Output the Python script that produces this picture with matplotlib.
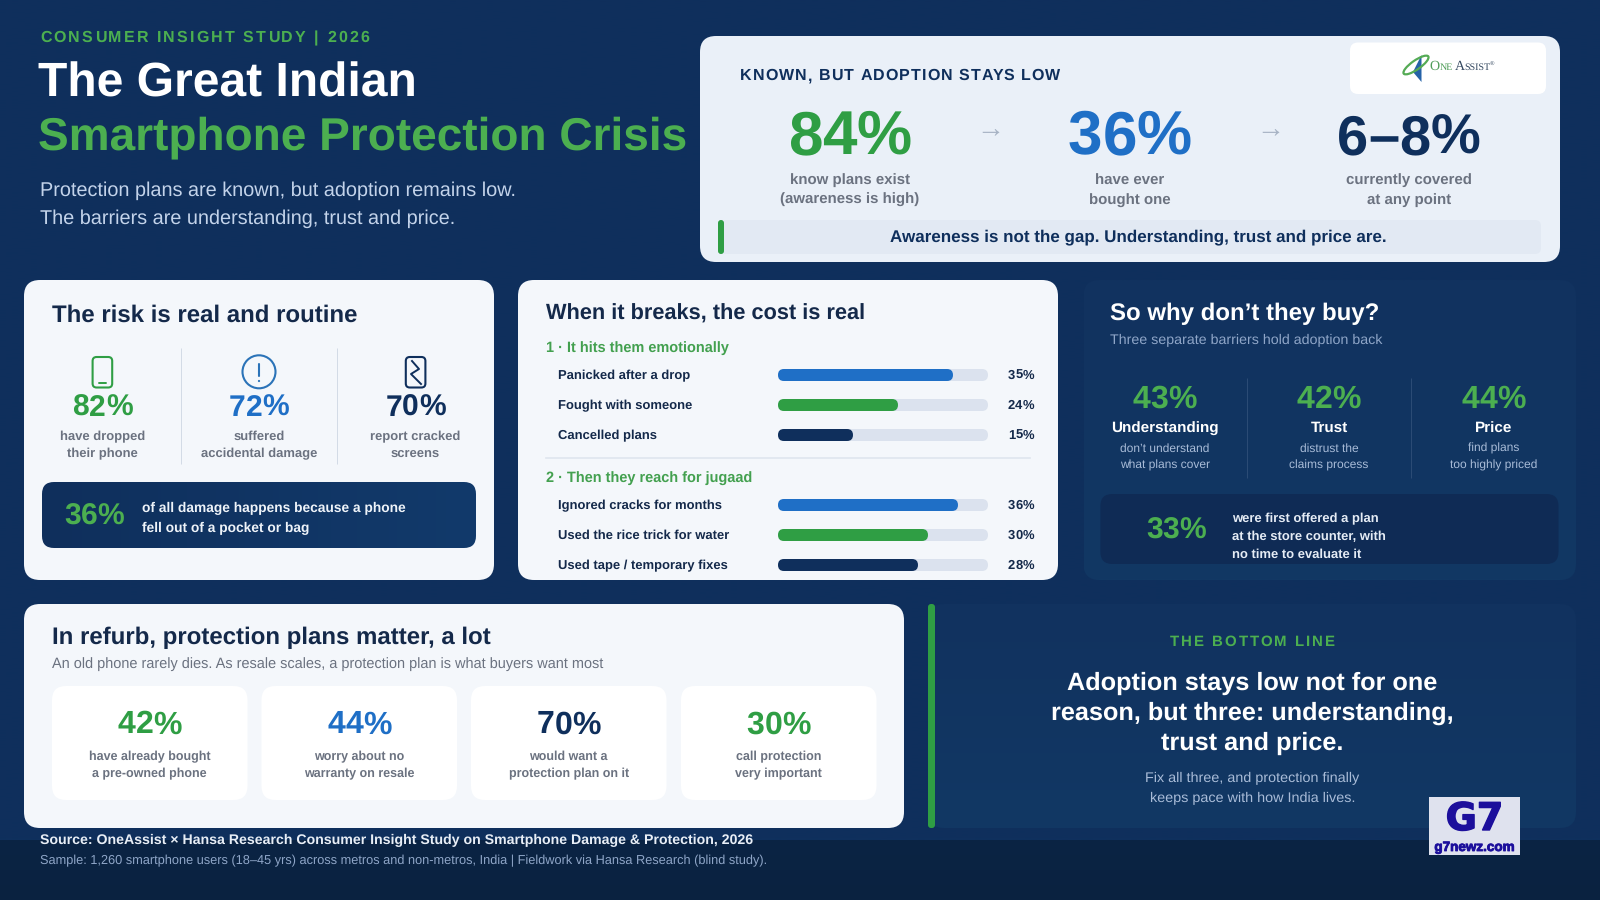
import numpy as np
import matplotlib
matplotlib.use("Agg")
import matplotlib.pyplot as plt
import matplotlib.patheffects as pe
from matplotlib.patches import Circle, Ellipse, FancyBboxPatch, Polygon
from matplotlib.text import Text
from matplotlib.transforms import IdentityTransform

plt.rcParams["font.family"] = ["Liberation Sans", "DejaVu Sans"]
plt.rcParams["text.hinting"] = "no_hinting"

# Colours
NAVY = "#0f2f5c"
INK = "#14294a"
GREEN = "#2f9e44"
LIME = "#4caf50"
BLUE = "#1f6fc6"
GREY = "#6b7280"
CARD = "#f4f7fb"

# Funnel at the top
funnel_values = ["84%", "36%", "6–8%"]
funnel_labels = [("know plans exist", "(awareness is high)"), ("have ever", "bought one"),
                 ("currently covered", "at any point")]

# The risk card
risk_values = [82, 72, 70]
risk_labels = [("have dropped", "their phone"), ("suffered", "accidental damage"),
               ("report cracked", "screens")]

# The cost card
emotion_labels = ["Panicked after a drop", "Fought with someone", "Cancelled plans"]
emotion_values = [35, 24, 15]
jugaad_labels = ["Ignored cracks for months", "Used the rice trick for water", "Used tape / temporary fixes"]
jugaad_values = [36, 30, 28]
BAR_MAX = 42

# The barriers card
barrier_values = [43, 42, 44]
barrier_names = ["Understanding", "Trust", "Price"]
barrier_notes = [("don’t understand", "what plans cover"), ("distrust the", "claims process"),
                 ("find plans", "too highly priced")]

# The refurb card
refurb_values = [42, 44, 70, 30]
refurb_labels = [("have already bought", "a pre-owned phone"), ("worry about no", "warranty on resale"),
                 ("would want a", "protection plan on it"), ("call protection", "very important")]


class SpacedText(Text):
    # matplotlib has no letter spacing, so draw the glyphs one by one
    def __init__(self, x, y, text, spacing, **kwargs):
        super().__init__(x, y, text, **kwargs)
        self.spacing = spacing

    def draw(self, renderer):
        s = self.get_text()
        fp = self.get_fontproperties()
        x0, y0 = self.get_transform().transform(self.get_position())

        def width(part):
            return renderer.get_text_width_height_descent(part, fp, False)[0] if part else 0

        offsets = [width(s[:i]) + i * self.spacing for i in range(len(s))]
        total = offsets[-1] + width(s[-1])
        if self.get_ha() == "center":
            x0 -= total / 2
        elif self.get_ha() == "right":
            x0 -= total
        for off, c in zip(offsets, s):
            g = Text(x0 + off, y0, c, color=self.get_color(), fontproperties=fp,
                     va="baseline", ha="left", transform=IdentityTransform())
            g.set_figure(self.figure)
            g.draw(renderer)


fig = plt.figure(figsize=(16, 9), dpi=100)
ax = fig.add_axes([0, 0, 1, 1])


def txt(x, y, s, px, color, weight="normal", ha="left", family=None, **kwargs):
    fam = family if family else ["Liberation Sans", "DejaVu Sans"]
    return ax.text(x, y, s, fontsize=px * 0.72, color=color, weight=weight, ha=ha, va="baseline",
                   family=fam, zorder=5, **kwargs)


def spaced(x, y, s, px, color, spacing=0, ha="left"):
    a = SpacedText(x, y, s, spacing, fontsize=px * 0.72, color=color, weight="bold", ha=ha, va="baseline",
                   family=["Liberation Sans", "DejaVu Sans"], zorder=5)
    ax.add_artist(a)


def box(x0, y0, x1, y1, r, color, z=2, a=None):
    p = FancyBboxPatch((x0, y0), x1 - x0, y1 - y0, boxstyle=f"round,pad=0,rounding_size={r}",
                       fc=color, ec="none", lw=0, zorder=z, alpha=a)
    ax.add_patch(p)
    return p


def gradient(x0, y0, x1, y1, r, c0, c1, horizontal=False, z=2):
    # rounded panel filled with a two stop gradient
    c0 = np.array(matplotlib.colors.to_rgb(c0))
    c1 = np.array(matplotlib.colors.to_rgb(c1))
    t = np.linspace(0, 1, 256)[:, None]
    img = c0 + (c1 - c0) * t
    img = img[None, :, :] if horizontal else img[:, None, :]
    im = ax.imshow(img, extent=(x0, x1, y1, y0), aspect="auto", zorder=z, interpolation="bilinear")
    if r:
        p = box(x0, y0, x1, y1, r, "none", z=z)
        im.set_clip_path(p)


def vline(x, y0, y1, color, lw=1.0, z=3):
    ax.plot([x, x], [y0, y1], color=color, lw=lw * 0.72, zorder=z, solid_capstyle="butt")


# Background
gradient(0, 0, 1600, 840, 0, "#0f2f5c", "#0f305d", z=0)
gradient(0, 840, 1600, 900, 0, "#0b2444", "#0a2240", z=0)

# Header
spaced(40, 42.3, "CONSUMER INSIGHT STUDY | 2026", 16, LIME, 2.1)
txt(38, 96.4, "The Great Indian", 48, "white", "bold")
txt(38, 149.5, "Smartphone Protection Crisis", 46, LIME, "bold")
txt(40, 195.8, "Protection plans are known, but adoption remains low.", 19.9, "#c3d3ea")
txt(40, 223.6, "The barriers are understanding, trust and price.", 19.9, "#c3d3ea")

# Top card
box(700, 36, 1560, 262, 16, "#eaf0f8")
box(1350, 42.5, 1546, 94, 8, "white", z=3)
spaced(740, 80.3, "KNOWN, BUT ADOPTION STAYS LOW", 16, NAVY, 1.1)

# Logo
ax.add_patch(Polygon([(1421.5, 55), (1421.5, 82), (1413, 72)], fc="#2562a8", ec="none", zorder=4))
ax.add_patch(Ellipse((1416, 65), 30, 9, angle=-35, fc="none", ec="#55ab55", lw=1.6, zorder=4))
txt(1429, 70, "O", 14, "#4f9d59", family="Liberation Serif")
txt(1440, 70, "NE", 10, "#4f9d59", family="Liberation Serif")
txt(1454.5, 70, "A", 14, "#33475f", family="Liberation Serif")
txt(1464.5, 70, "SSIST", 10, "#33475f", family="Liberation Serif")
txt(1490, 66, "®", 6, "#33475f", family="Liberation Serif")

funnel_x = [850, 1130, 1409]
funnel_px = [62, 62, 56]
funnel_col = [GREEN, BLUE, NAVY]
funnel_dy = [0, 0.7, 0]
for x, v, px, c, lab, dy in zip(funnel_x, funnel_values, funnel_px, funnel_col, funnel_labels, funnel_dy):
    spaced(x, 154, v, px, c, ha="center")
    txt(x, 184.3 + dy, lab[0], 15, GREY, "bold", ha="center")
    txt(x, 204.3 + dy, lab[1], 15, GREY, "bold", ha="center")
for x in (990, 1270):
    txt(x, 137.5, "→", 28, "#a7b3c4", ha="center")

box(718, 220, 1541, 254, 6, "#e2e9f3", z=3)
box(718, 220, 724, 254, 3, GREEN, z=4)
txt(1138, 241.2, "Awareness is not the gap. Understanding, trust and price are.", 17, NAVY, "bold", ha="center")

# Risk card
box(24, 280, 494, 580, 16, CARD)
txt(52, 321.7, "The risk is real and routine", 24, INK, "bold")
risk_x = [102.4, 259, 415.5]
risk_col = [GREEN, BLUE, NAVY]
for x, v, c, lab in zip(risk_x, risk_values, risk_col, risk_labels):
    spaced(x, 416.2, f"{v}%", 30, c, ha="center")
    txt(x, 440, lab[0], 13, GREY, "bold", ha="center")
    txt(x, 457, lab[1], 13, GREY, "bold", ha="center")
vline(180.5, 348, 464, "#d3dbe6")
vline(337.4, 348, 464, "#d3dbe6")

# Risk icons
p = FancyBboxPatch((92.6, 357), 19.6, 30.5, boxstyle="round,pad=0,rounding_size=4", fc="none", ec=GREEN,
                   lw=1.5, zorder=4)
ax.add_patch(p)
ax.plot([99, 106], [383, 383], color=GREEN, lw=1.4, zorder=4, solid_capstyle="round")
ax.add_patch(Circle((259, 371.8), 16.5, fc="none", ec="#2b73b8", lw=1.5, zorder=4))
ax.plot([259, 259], [364, 376], color="#2b73b8", lw=1.5, zorder=4, solid_capstyle="round")
ax.add_patch(Circle((259, 381), 1.1, fc="#2b73b8", ec="none", zorder=4))
p = FancyBboxPatch((405.8, 357), 19.6, 30.5, boxstyle="round,pad=0,rounding_size=4", fc="none", ec=NAVY,
                   lw=1.5, zorder=4)
ax.add_patch(p)
ax.plot([412, 419, 411, 421], [361, 369, 374, 384], color=NAVY, lw=1.4, zorder=4)

gradient(42, 482, 476, 548, 12, "#0f2f5c", "#123a6b", horizontal=True)
spaced(64, 524.3, "36%", 30, LIME)
txt(142, 511.7, "of all damage happens because a phone", 13.75, "#eef3f9", "bold")
txt(142, 532, "fell out of a pocket or bag", 13.75, "#eef3f9", "bold")

# Cost card
box(518, 280, 1058, 580, 16, CARD)
txt(546, 320, "When it breaks, the cost is real", 21.8, INK, "bold")
txt(546, 352, "1 · It hits them emotionally", 14.5, "#43a04f", "bold")
txt(546, 482.5, "2 · Then they reach for jugaad", 14.5, "#43a04f", "bold")
ax.plot([546, 1030], [458, 458], color="#dfe5ee", lw=1.2, zorder=3)

# Bars share their own axes: x runs on the value scale, y stays in pixels
bar_ax = fig.add_axes([778 / 1600, 0, 210 / 1600, 1])
bar_ax.set_xlim(0, BAR_MAX)
bar_ax.set_ylim(900, 0)
bar_ax.axis("off")
bar_ax.patch.set_alpha(0)
px_per_unit = 210 / BAR_MAX


def hbar(axis, y, value, color, z):
    r = 6 / px_per_unit
    axis.add_patch(FancyBboxPatch((0, y - 6), value, 12, boxstyle=f"round,pad=0,rounding_size={r}",
                                  mutation_aspect=px_per_unit, fc=color, ec="none", lw=0, zorder=z))


bar_y = [375, 405, 435, 505, 535, 565]
bar_col = [BLUE, GREEN, NAVY] * 2
for y, lab, v, c in zip(bar_y, emotion_labels + jugaad_labels, emotion_values + jugaad_values, bar_col):
    hbar(bar_ax, y, BAR_MAX, "#dbe2ee", 2)
    hbar(bar_ax, y, v, c, 3)
    txt(558, y + 4.3, lab, 13, INK, "bold")
    spaced(1034, y + 4.3, f"{v}%", 13, INK, ha="right")

# Barriers card
gradient(1083.5, 280, 1576, 580, 16, "#11325f", "#123864")
txt(1110, 320, "So why don’t they buy?", 24, "white", "bold")
txt(1110, 344, "Three separate barriers hold adoption back", 14.3, "#8fa6c8")
barrier_x = [1164.7, 1329, 1493.6]
barrier_dy = [0.7, 0, 0.7]
for x, v, name, note, dy in zip(barrier_x, barrier_values, barrier_names, barrier_notes, barrier_dy):
    spaced(x, 408, f"{v}%", 32, LIME, ha="center")
    txt(x, 432.3 + dy, name, 15.2, "white", "bold", ha="center")
    txt(x, 451.7, note[0], 12, "#a9bcd8", ha="center")
    txt(x, 469, note[1], 12, "#a9bcd8", ha="center")
vline(1246.5, 378, 478, "#2b4b75")
vline(1411.4, 378, 478, "#2b4b75")
box(1100.4, 494, 1558.5, 564, 12, "#0f2b55", z=3)
spaced(1146, 538.5, "33%", 30, LIME)
txt(1232, 522, "were first offered a plan", 13, "#e5ecf5", "bold")
txt(1232, 540, "at the store counter, with", 13, "#e5ecf5", "bold")
txt(1232, 558, "no time to evaluate it", 13, "#e5ecf5", "bold")

# Refurb card
box(24, 604, 904, 828, 16, CARD)
txt(52, 643.7, "In refurb, protection plans matter, a lot", 24, INK, "bold")
txt(52, 667.7, "An old phone rarely dies. As resale scales, a protection plan is what buyers want most", 14.5, GREY)
refurb_x0 = [52, 261.5, 471, 681]
refurb_col = [GREEN, BLUE, NAVY, GREEN]
for x0, v, c, lab in zip(refurb_x0, refurb_values, refurb_col, refurb_labels):
    box(x0, 686, x0 + 195.5, 800, 14, "white", z=3)
    cx = x0 + 97.75
    spaced(cx, 733.3, f"{v}%", 32, c, ha="center")
    txt(cx, 760, lab[0], 12.5, GREY, "bold", ha="center")
    txt(cx, 777, lab[1], 12.5, GREY, "bold", ha="center")

# Bottom line
gradient(928, 604, 1576, 828, 16, "#11325f", "#123864")
box(928, 604, 935, 828, 3, GREEN, z=4)
spaced(1252.4, 645.7, "THE BOTTOM LINE", 15, LIME, 2.0, ha="center")
for y, s in zip((690, 720, 750), ("Adoption stays low not for one", "reason, but three: understanding,",
                                  "trust and price.")):
    txt(1252.4, y, s, 25.25, "white", "bold", ha="center")
txt(1252.4, 781.7, "Fix all three, and protection finally", 14.4, "#a9bcd8", ha="center")
txt(1252.4, 801.7, "keeps pace with how India lives.", 14.4, "#a9bcd8", ha="center")

# Footer
txt(40, 844, "Source: OneAssist × Hansa Research Consumer Insight Study on Smartphone Damage & Protection, 2026", 14.12,
    "#e8eef6", "bold")
txt(40, 864, "Sample: 1,260 smartphone users (18–45 yrs) across metros and non-metros, India | Fieldwork via Hansa "
    "Research (blind study).", 12.8, "#8fa6c8")

# Watermark
ax.add_patch(plt.Rectangle((1429, 797), 91, 58, fc="#dfe2ee", ec="none", zorder=6))
g = ax.text(1474.5, 830, "G7", fontsize=38 * 0.72, color="#1c0f9c", weight="bold", family="DejaVu Sans",
            ha="center", va="baseline", zorder=7)
g.set_path_effects([pe.withStroke(linewidth=1.0, foreground="#1c0f9c")])
g = ax.text(1474.5, 851, "g7newz.com", fontsize=13.5 * 0.72, color="#1c0f9c", weight="bold",
            family="Liberation Sans", ha="center", va="baseline", zorder=7)
g.set_path_effects([pe.withStroke(linewidth=0.6, foreground="#1c0f9c")])

ax.set_xlim(0, 1600)
ax.set_ylim(900, 0)
ax.axis("off")

fig.savefig("out.png", dpi=100)
